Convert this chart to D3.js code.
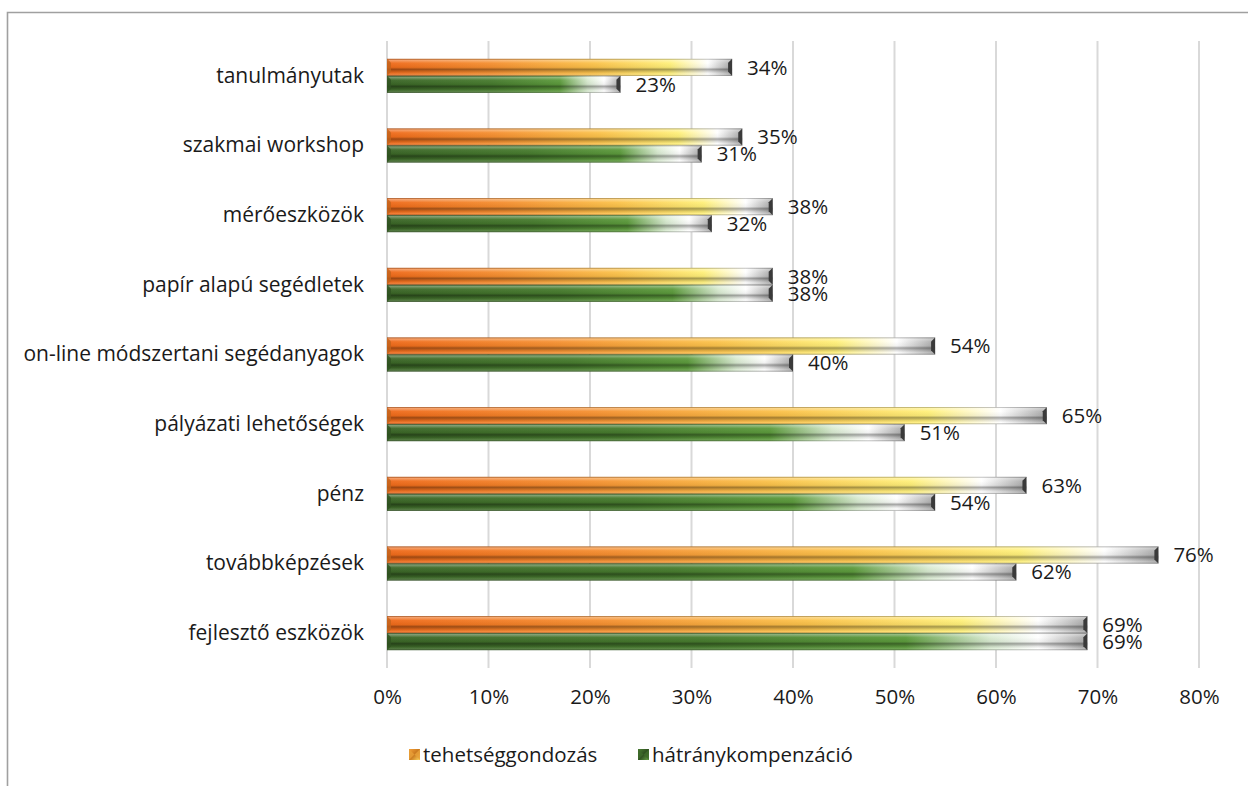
<!DOCTYPE html>
<html>
<head>
<meta charset="utf-8">
<script src="https://cdn.jsdelivr.net/npm/d3@7"></script>
<style>
  html, body { margin: 0; padding: 0; background: #fff; }
  svg { display: block; }
  text { font-family: "Open Sans", Lato, sans-serif; fill: #1a1a1a; }
</style>
</head>
<body>
<svg id="chart" width="1248" height="786"></svg>
<script>
const categories = [
  "tanulmányutak",
  "szakmai workshop",
  "mérőeszközök",
  "papír alapú segédletek",
  "on-line módszertani segédanyagok",
  "pályázati lehetőségek",
  "pénz",
  "továbbképzések",
  "fejlesztő eszközök"
];
const seriesNames = ["tehetséggondozás", "hátránykompenzáció"];
const tehetseggondozas = [34, 35, 38, 38, 54, 65, 63, 76, 69];
const hatranykompenzacio = [23, 31, 32, 38, 40, 51, 54, 62, 69];
const tickValues = [0, 10, 20, 30, 40, 50, 60, 70, 80];

const FONT = "'Open Sans', Lato, sans-serif";
const svg = d3.select("#chart");
const defs = svg.append("defs");

// horizontal gradients
const hgOrange = defs.append("linearGradient").attr("id", "hgO")
  .attr("x1", 0).attr("x2", 1).attr("y1", 0).attr("y2", 0);
[["0", "#ef6a1a"], ["0.3", "#f58f30"], ["0.6", "#fbc24a"], ["0.82", "#fff07a"], ["0.93", "#ffffff"], ["1", "#a8a8a8"]]
  .forEach(([o, c]) => hgOrange.append("stop").attr("offset", o).attr("stop-color", c));
const hgGreen = defs.append("linearGradient").attr("id", "hgG")
  .attr("x1", 0).attr("x2", 1).attr("y1", 0).attr("y2", 0);
[["0", "#3b6627"], ["0.45", "#477b2e"], ["0.74", "#5c9a3c"], ["0.86", "#d8ead0"], ["0.93", "#ffffff"], ["1", "#a8a8a8"]]
  .forEach(([o, c]) => hgGreen.append("stop").attr("offset", o).attr("stop-color", c));

// vertical bevel overlay
const vg = defs.append("linearGradient").attr("id", "vg")
  .attr("x1", 0).attr("x2", 0).attr("y1", 0).attr("y2", 1);
[["0", "#000", 0.35], ["0.08", "#fff", 0.35], ["0.25", "#fff", 0.05], ["0.5", "#000", 0.05],
 ["0.62", "#000", 0.35], ["0.78", "#000", 0.1], ["0.9", "#fff", 0.1], ["1", "#000", 0.4]]
  .forEach(([o, c, a]) => vg.append("stop").attr("offset", o).attr("stop-color", c).attr("stop-opacity", a));

// legend marker gradients
const lgO = defs.append("linearGradient").attr("id", "lgO").attr("x1", 0).attr("x2", 1).attr("y1", 0).attr("y2", 1);
[["0", "#f6a23a"], ["0.5", "#c8781e"], ["1", "#ffd860"]].forEach(([o, c]) => lgO.append("stop").attr("offset", o).attr("stop-color", c));
const lgG = defs.append("linearGradient").attr("id", "lgG").attr("x1", 0).attr("x2", 1).attr("y1", 0).attr("y2", 1);
[["0", "#4d8234"], ["0.5", "#2e4e20"], ["1", "#6aa548"]].forEach(([o, c]) => lgG.append("stop").attr("offset", o).attr("stop-color", c));

// frame
svg.append("path").attr("d", "M7.5,786 L7.5,12.5 L1248,12.5")
  .attr("fill", "none").attr("stroke", "#a0a0a0").attr("stroke-width", 1.6);

const x = d3.scaleLinear().domain([0, 80]).range([387, 1199]);
const y = d3.scaleBand().domain(categories).range([41, 668]).paddingInner(0.512).paddingOuter(0.256);
const ySub = d3.scaleBand().domain(seriesNames).range([0, y.bandwidth()]);

// gridlines
svg.append("g").selectAll("line").data(tickValues).join("line")
  .attr("x1", d => x(d)).attr("x2", d => x(d))
  .attr("y1", 41).attr("y2", 668)
  .attr("stroke", "#d9d9d9").attr("stroke-width", 2);

// x axis
const xAxis = d3.axisBottom(x).tickValues(tickValues).tickFormat(d => d + "%").tickSize(0).tickPadding(0);
const gx = svg.append("g").attr("transform", "translate(0,689)").call(xAxis);
gx.select(".domain").remove();
gx.selectAll("text").attr("font-size", 20.5).attr("dy", "0.71em")
  .style("font-family", FONT).attr("fill", "#1a1a1a");

// y axis
const yAxis = d3.axisLeft(y).tickSize(0).tickPadding(0);
const gy = svg.append("g").attr("transform", "translate(364,0)").call(yAxis);
gy.select(".domain").remove();
gy.selectAll("text").attr("font-size", 21)
  .style("font-family", FONT).attr("fill", "#1a1a1a");

// bars
const rows = categories.map((c, i) => ({ cat: c, vals: [tehetseggondozas[i], hatranykompenzacio[i]] }));
const grads = ["url(#hgO)", "url(#hgG)"];
const capColors = ["#c2631c", "#2f5220"];

rows.forEach(r => {
  r.vals.forEach((v, si) => {
    const s = seriesNames[si];
    const y0 = y(r.cat) + ySub(s);
    const h = ySub.bandwidth();
    const x0 = x(0), x1 = x(v);
    const g = svg.append("g");
    g.append("rect").attr("x", x0).attr("y", y0).attr("width", x1 - x0).attr("height", h).attr("fill", grads[si]);
    g.append("rect").attr("x", x0).attr("y", y0).attr("width", x1 - x0).attr("height", h).attr("fill", "url(#vg)");
    g.append("path").attr("d", `M${x0},${y0} L${x0 + 4},${y0 + 4} L${x0 + 4},${y0 + h - 4} L${x0},${y0 + h} Z`)
      .attr("fill", capColors[si]).attr("opacity", 0.8);
    g.append("path").attr("d", `M${x1},${y0} L${x1},${y0 + h} L${x1 - 4},${y0 + h - 4} L${x1 - 4},${y0 + 4} Z`)
      .attr("fill", "#3a3a3a");
    svg.append("text").attr("x", x1 + 15).attr("y", y0 + h / 2).attr("dy", "0.35em")
      .attr("font-size", 20.5).text(v + "%");
  });
});

// legend
const legend = [
  { name: seriesNames[0], x: 409, fill: "url(#lgO)", tri: "#e8a038" },
  { name: seriesNames[1], x: 638, fill: "url(#lgG)", tri: "#3e6a2a" }
];
const lg = svg.append("g").selectAll("g").data(legend).join("g")
  .attr("transform", d => `translate(${d.x},749)`);
lg.append("rect").attr("width", 11).attr("height", 11).attr("fill", d => d.fill);
lg.append("path").attr("d", "M0,0 L5.5,5.5 L0,11 Z M11,0 L5.5,5.5 L11,11 Z").attr("fill", d => d.tri).attr("opacity", 0.8);
lg.append("text").attr("x", 14).attr("y", 5.5).attr("dy", "0.35em").attr("font-size", 20.5).text(d => d.name);
</script>
</body>
</html>
